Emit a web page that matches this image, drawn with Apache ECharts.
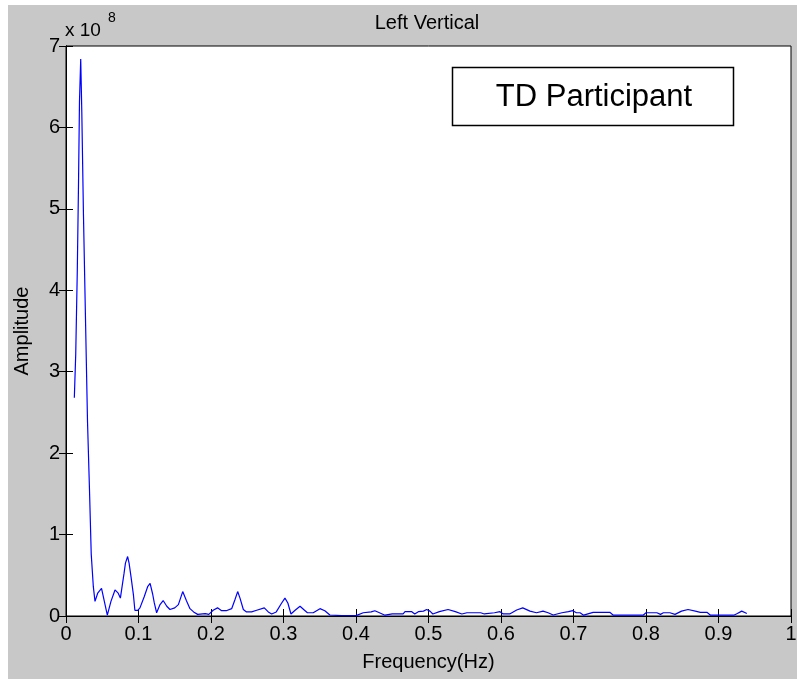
<!DOCTYPE html>
<html>
<head>
<meta charset="utf-8">
<script src="https://cdn.jsdelivr.net/npm/echarts@6/dist/echarts.min.js"></script>
<style>html,body{margin:0;padding:0;background:#fff;}#c{width:797px;height:679px;}</style>
</head>
<body>
<div id="c"></div>
<script>
// Frequency (Hz) of each sample
const freq = [
  0.0115, 0.0134, 0.0156, 0.0172, 0.0186, 0.0203, 0.0218, 0.0241, 0.0269, 0.0297,
  0.0324, 0.0348, 0.0377, 0.0400, 0.0437, 0.0490, 0.0540, 0.0570, 0.0620, 0.0676,
  0.0720, 0.0750, 0.0800, 0.0820, 0.0850, 0.0870, 0.0897, 0.0930, 0.0950, 0.0990,
  0.1020, 0.1080, 0.1126, 0.1160, 0.1195, 0.1218, 0.1250, 0.1297, 0.1340, 0.1390,
  0.1434, 0.1500, 0.1550, 0.1610, 0.1660, 0.1710, 0.1760, 0.1816, 0.1920, 0.1970,
  0.2030, 0.2090, 0.2147, 0.2210, 0.2285, 0.2330, 0.2368, 0.2400, 0.2446, 0.2490,
  0.2560, 0.2630, 0.2735, 0.2790, 0.2837, 0.2900, 0.2975, 0.3020, 0.3060, 0.3103,
  0.3160, 0.3228, 0.3290, 0.3330, 0.3410, 0.3503, 0.3570, 0.3640, 0.3800, 0.4000,
  0.4100, 0.4210, 0.4260, 0.4300, 0.4400, 0.4500, 0.4650, 0.4676, 0.4770, 0.4810,
  0.4860, 0.4930, 0.4975, 0.5020, 0.5060, 0.5150, 0.5270, 0.5370, 0.5460, 0.5530,
  0.5720, 0.5770, 0.5910, 0.5986, 0.6030, 0.6120, 0.6216, 0.6300, 0.6400, 0.6490,
  0.6580, 0.6650, 0.6720, 0.6840, 0.6930, 0.6990, 0.7040, 0.7090, 0.7140, 0.7270,
  0.7500, 0.7550, 0.7960, 0.8000, 0.8150, 0.8200, 0.8240, 0.8330, 0.8400, 0.8490,
  0.8580, 0.8680, 0.8750, 0.8840, 0.8890, 0.9210, 0.9260, 0.9320, 0.9370, 0.9390
];
// Amplitude (x 10^8)
const amplitude = [
  2.68, 3.21, 4.25, 5.27, 6.32, 6.84, 6.19, 4.92, 3.64, 2.38,
  1.55, 0.76, 0.36, 0.18, 0.28, 0.34, 0.135, 0.01, 0.18, 0.32,
  0.28, 0.22, 0.52, 0.65, 0.73, 0.65, 0.48, 0.26, 0.07, 0.07,
  0.10, 0.24, 0.36, 0.40, 0.27, 0.16, 0.04, 0.14, 0.19, 0.12,
  0.08, 0.10, 0.14, 0.30, 0.19, 0.09, 0.05, 0.02, 0.03, 0.02,
  0.07, 0.10, 0.065, 0.065, 0.09, 0.20, 0.30, 0.22, 0.08, 0.05,
  0.05, 0.07, 0.10, 0.05, 0.025, 0.05, 0.16, 0.22, 0.16, 0.025,
  0.07, 0.12, 0.07, 0.04, 0.04, 0.09, 0.065, 0.012, 0.005, 0.005,
  0.04, 0.05, 0.065, 0.05, 0.01, 0.025, 0.025, 0.053, 0.053, 0.025,
  0.053, 0.06, 0.08, 0.06, 0.025, 0.053, 0.08, 0.053, 0.025, 0.04,
  0.04, 0.025, 0.04, 0.053, 0.025, 0.025, 0.074, 0.10, 0.06, 0.04,
  0.06, 0.04, 0.012, 0.04, 0.053, 0.065, 0.04, 0.04, 0.01, 0.045,
  0.045, 0.01, 0.01, 0.04, 0.04, 0.02, 0.04, 0.04, 0.02, 0.06,
  0.08, 0.06, 0.045, 0.045, 0.01, 0.01, 0.03, 0.06, 0.04, 0.03
];
const xTicks = [0, 0.1, 0.2, 0.3, 0.4, 0.5, 0.6, 0.7, 0.8, 0.9, 1];
const yTicks = [0, 1, 2, 3, 4, 5, 6, 7];

const FONT = '"Liberation Sans", Arial, sans-serif';
const chart = echarts.init(document.getElementById('c'), null, {renderer: 'canvas'});
const data = freq.map((f, i) => [f, amplitude[i]]);

const axisCommon = {
  axisLine: {show: true, lineStyle: {color: '#000', width: 1}},
  axisTick: {show: true, inside: true, length: 7, lineStyle: {color: '#000', width: 1}},
  splitLine: {show: false},
  axisLabel: {color: '#000', fontFamily: FONT, fontSize: 20}
};

chart.setOption({
  backgroundColor: '#ffffff',
  animation: false,
  graphic: [
    {type: 'rect', z: -10, silent: true, shape: {x: 8, y: 5, width: 789, height: 674}, style: {fill: '#c8c8c8'}},
    {type: 'rect', z: 10, shape: {x: 452.5, y: 67.5, width: 281, height: 58}, style: {fill: '#fff', stroke: '#000', lineWidth: 1.5}},
    {type: 'text', z: 11, x: 594, y: 97, style: {text: 'TD Participant', font: '31px ' + FONT, fill: '#000', align: 'center', verticalAlign: 'middle'}},
    {type: 'text', z: 11, x: 65, y: 31, style: {text: 'x 10', font: '19px ' + FONT, fill: '#000', align: 'left', verticalAlign: 'middle'}},
    {type: 'text', z: 11, x: 108, y: 18, style: {text: '8', font: '14px ' + FONT, fill: '#000', align: 'left', verticalAlign: 'middle'}},
    {type: 'text', z: 11, x: 427, y: 23, style: {text: 'Left Vertical', font: '20px ' + FONT, fill: '#000', align: 'center', verticalAlign: 'middle'}}
  ],
  grid: {left: 66, top: 46, right: 6, bottom: 63, containLabel: false, outerBoundsMode: 'none',
         show: true, backgroundColor: '#fff', borderColor: '#000', borderWidth: 1},
  xAxis: [
    Object.assign({}, axisCommon, {
      type: 'value', min: xTicks[0], max: xTicks[xTicks.length - 1], interval: 0.1, position: 'bottom',
      name: 'Frequency(Hz)', nameLocation: 'middle', nameGap: 36,
      nameTextStyle: {fontFamily: FONT, fontSize: 20, color: '#000'},
      axisLabel: Object.assign({}, axisCommon.axisLabel, {margin: 8, formatter: v => String(+v.toFixed(1))})
    }),
    Object.assign({}, axisCommon, {
      type: 'value', min: xTicks[0], max: xTicks[xTicks.length - 1], interval: 0.1, position: 'top',
      axisLabel: {show: false}
    })
  ],
  yAxis: [
    Object.assign({}, axisCommon, {
      type: 'value', min: yTicks[0], max: yTicks[yTicks.length - 1], interval: 1, position: 'left',
      name: 'Amplitude', nameLocation: 'middle', nameGap: 34, nameRotate: 90,
      nameTextStyle: {fontFamily: FONT, fontSize: 20, color: '#000'},
      axisLabel: Object.assign({}, axisCommon.axisLabel, {margin: 6})
    }),
    Object.assign({}, axisCommon, {
      type: 'value', min: yTicks[0], max: yTicks[yTicks.length - 1], interval: 1, position: 'right',
      axisLabel: {show: false}
    })
  ],
  series: [{
    type: 'line', data: data, xAxisIndex: 0, yAxisIndex: 0,
    showSymbol: false, symbol: 'none',
    lineStyle: {color: '#0000ff', width: 1.2}
  }]
});
</script>
</body>
</html>
